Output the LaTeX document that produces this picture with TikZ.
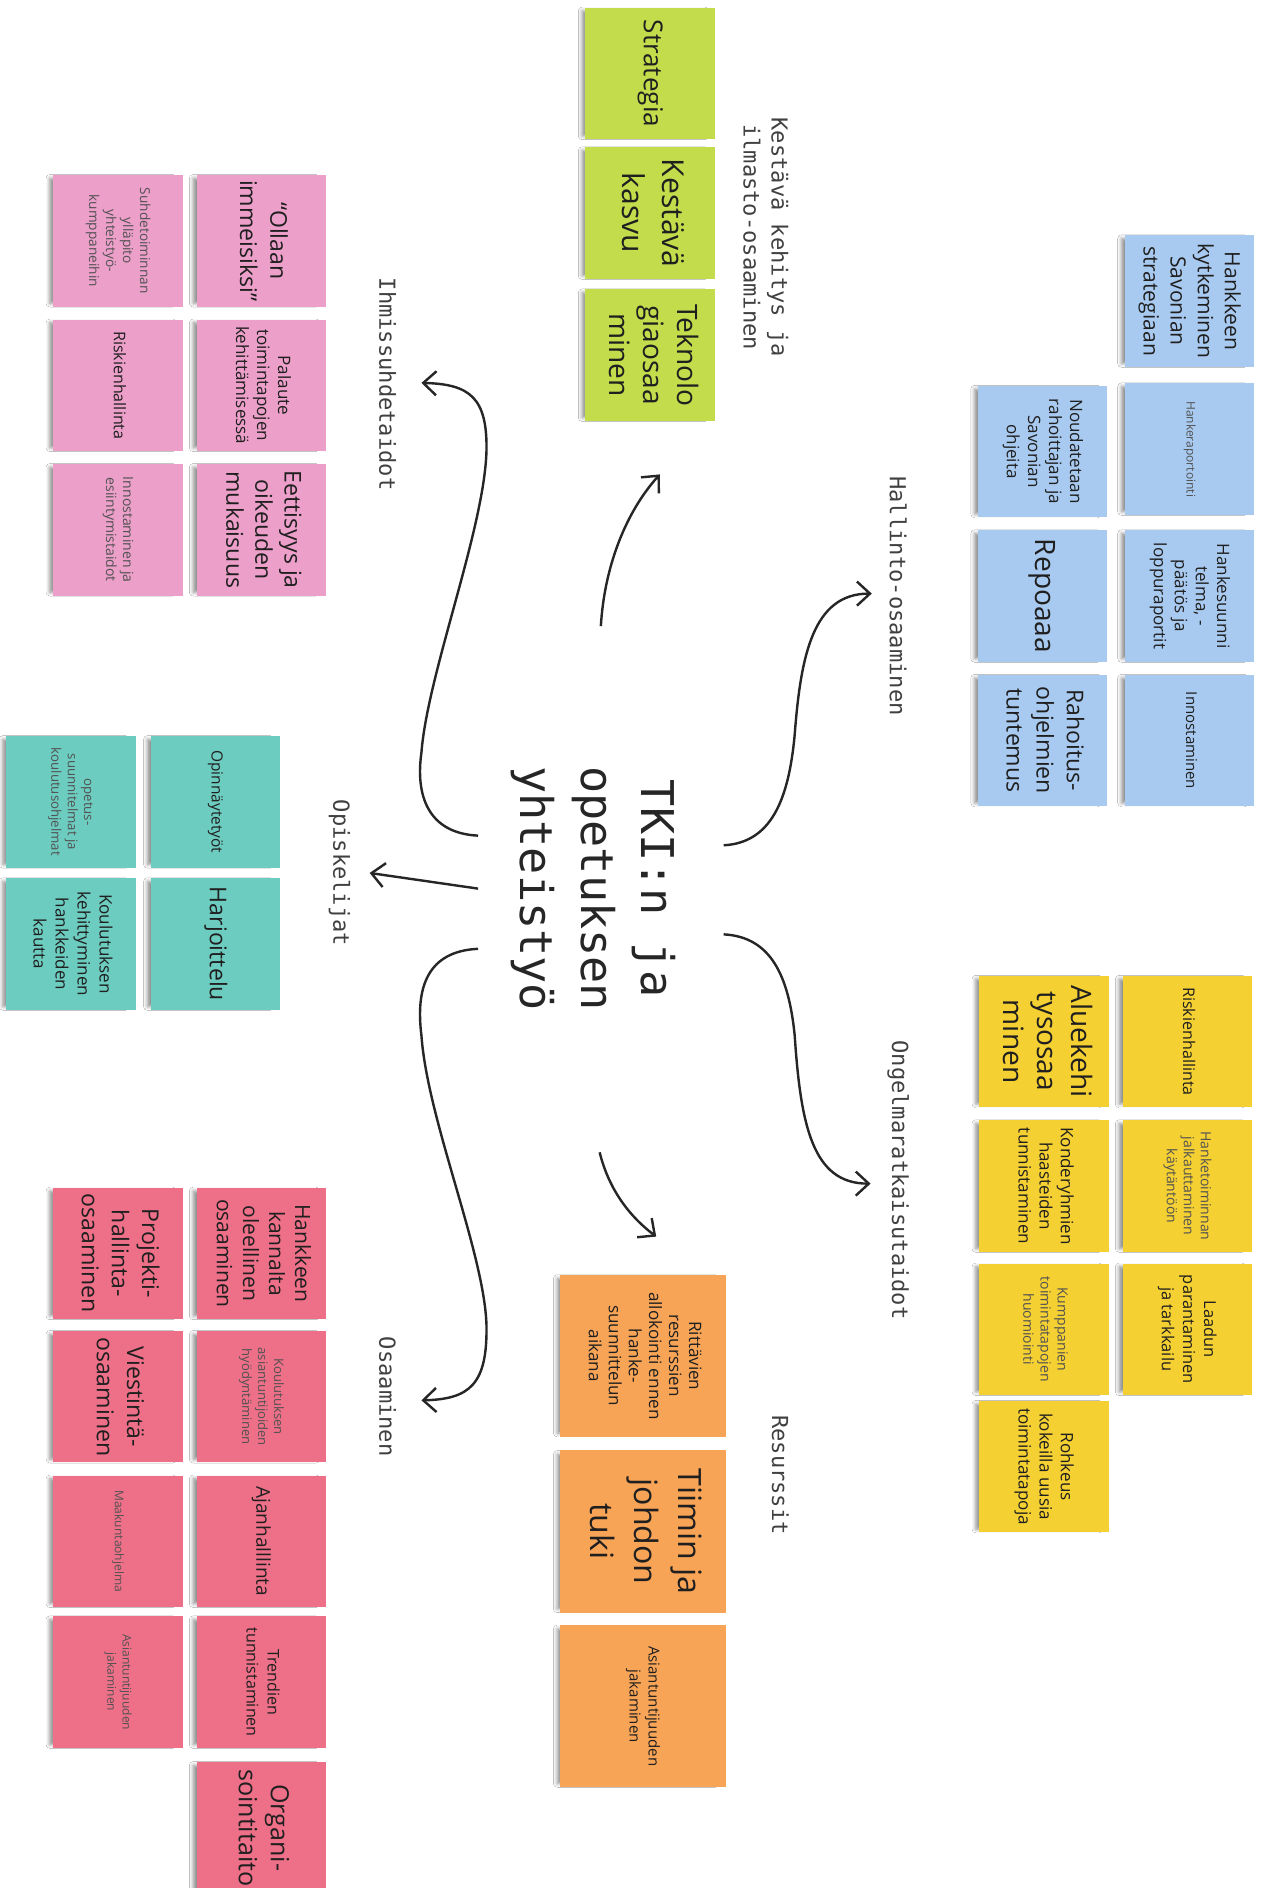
\documentclass[tikz,border=0pt]{standalone}
\usepackage{fontspec}
\usepackage{graphicx}
\setmainfont{Open Sans}
\newfontfamily\monofont{DejaVu Sans Mono}
\usetikzlibrary{arrows.meta,shadows.blur}
\definecolor{cblue}{HTML}{A9CAF0}
\definecolor{cyel}{HTML}{F5D032}
\definecolor{cgreen}{HTML}{C3DC4C}
\definecolor{cpink}{HTML}{EC9FC9}
\definecolor{cteal}{HTML}{6DCCC0}
\definecolor{cred}{HTML}{EE6F88}
\definecolor{corange}{HTML}{F8A457}
\newcommand{\nt}[3]{\rotatebox{-90}{\fontsize{#1}{#2}\selectfont\begin{tabular}{@{}c@{}}#3\end{tabular}}}
\newcommand{\ntg}[3]{\rotatebox{-90}{\color{black!68}\fontsize{#1}{#2}\selectfont\begin{tabular}{@{}c@{}}#3\end{tabular}}}
\tikzset{
  note/.style={minimum width=64.5pt, minimum height=65.5pt, inner sep=0pt, text=black!88,
    blur shadow={shadow xshift=-3.5pt, shadow yshift=0pt, shadow scale=0.95, shadow opacity=45, shadow blur radius=2pt}},
  nblue/.style={note, fill=cblue},
  nyel/.style={note, fill=cyel},
  ngreen/.style={note, fill=cgreen},
  npink/.style={note, fill=cpink},
  nteal/.style={note, fill=cteal},
  nred/.style={note, fill=cred},
  norange/.style={note, fill=corange, minimum width=83pt, minimum height=81pt},
  lbl/.style={font=\monofont\fontsize{11}{14}\selectfont, rotate=-90, align=center, text=black!75, inner sep=0pt},
  title/.style={font=\monofont\fontsize{22.5}{30}\selectfont, rotate=-90, align=center, text=black!85, inner sep=0pt},
  arr/.style={line width=1.2pt, black!85, -{Straight Barb[length=6.5pt,width=12pt]}}
}
\begin{document}
\begin{tikzpicture}[x=0.6pt,y=-0.6pt]
\useasboundingbox (0,0) rectangle (1049,1568);
\fill[white] (0,0) rectangle (1049,1568);

% centre
\node[title] (c) at (493,738) {TKI:n ja\\opetuksen\\yhteistyö};

% labels
\node[lbl] (lhal) at (746,495) {Hallinto-osaaminen};
\node[lbl] (long) at (746,980) {Ongelmaratkaisutaidot};
\node[lbl] (lres) at (648,1225) {Resurssit};
\node[lbl] (lkes) at (636,197) {Kestävä kehitys ja\\ilmasto-osaaminen};
\node[lbl] (lihm) at (322,319) {Ihmissuhdetaidot};
\node[lbl] (lopi) at (282,725) {Opiskelijat};
\node[lbl] (losa) at (322,1160) {Osaaminen};

% blue
\node[nblue] (b1) at (988,250) {\nt{10.5}{13.5}{Hankkeen\\kytkeminen\\Savonian\\strategiaan}};
\node[nblue] (b2) at (988,373) {\ntg{6}{7.5}{Hankeraportointi}};
\node[nblue] (b3) at (988,495) {\nt{8.5}{10.5}{Hankesuunni\\telma, -\\päätös ja\\loppuraportit}};
\node[nblue] (b4) at (988,615) {\nt{7.5}{9}{Innostaminen}};
\node[nblue] (b5) at (866,375) {\nt{8.5}{10.5}{Noudatetaan\\rahoittajan ja\\Savonian\\ohjeita}};
\node[nblue] (b6) at (866,495) {\nt{14}{17}{Repoaaa}};
\node[nblue] (b7) at (866,615) {\nt{11.5}{15}{Rahoitus-\\ohjelmien\\tuntemus}};

% yellow
\node[nyel] (y1) at (986,865) {\nt{8}{10}{Riskienhallinta}};
\node[nyel] (y2) at (986,985) {\ntg{7}{8.5}{Hanketoiminnan\\jalkauttaminen\\käytäntöön}};
\node[nyel] (y3) at (986,1104) {\nt{8.2}{10.5}{Laadun\\parantaminen\\ja tarkkailu}};
\node[nyel] (y4) at (867,865) {\nt{14}{17}{Aluekehi\\tysosaa\\minen}};
\node[nyel] (y5) at (867,985) {\nt{8.5}{10.5}{Konderyhmien\\haasteiden\\tunnistaminen}};
\node[nyel] (y6) at (867,1104) {\ntg{7}{8.5}{Kumppanien\\toimintatapojen\\huomiointi}};
\node[nyel] (y7) at (867,1218) {\nt{8.5}{10.5}{Rohkeus\\kokeilla uusia\\toimintatapoja}};

% green
\node[ngreen] (g1) at (540,61) {\nt{13}{16}{Strategia}};
\node[ngreen] (g2) at (540,177) {\nt{15}{20}{Kestävä\\kasvu}};
\node[ngreen] (g3) at (540,295) {\nt{14}{17}{Teknolo\\giaosaa\\minen}};

% pink
\node[npink] (p1) at (217,200) {\nt{11.5}{15}{“Ollaan\\immeisiksi”}};
\node[npink] (p2) at (217,320) {\nt{8.5}{10.5}{Palaute\\toimintapojen\\kehittämisessä}};
\node[npink] (p3) at (217,440) {\nt{11.5}{14.5}{Eettisyys ja\\oikeuden\\mukaisuus}};
\node[npink] (p4) at (98,200) {\ntg{6.8}{8.5}{Suhdetoiminnan\\ylläpito\\yhteistyö-\\kumppaneihin}};
\node[npink] (p5) at (98,320) {\nt{8}{10}{Riskienhallinta}};
\node[npink] (p6) at (98,440) {\ntg{7}{8.5}{Innostaminen ja\\esiintymistaidot}};

% teal
\node[nteal] (t1) at (179,666) {\nt{7.7}{9.5}{Opinnäytetyöt}};
\node[nteal] (t2) at (179,784) {\nt{11.5}{14}{Harjoittelu}};
\node[nteal] (t3) at (59,666) {\ntg{6.6}{8.2}{opetus-\\suunnitelmat ja\\koulutusohjelmat}};
\node[nteal] (t4) at (59,784) {\nt{8.5}{11}{Koulutuksen\\kehittyminen\\hankkeiden\\kautta}};

% red
\node[nred] (r1) at (217,1041) {\nt{10.5}{13}{Hankkeen\\kannalta\\oleellinen\\osaaminen}};
\node[nred] (r2) at (217,1160) {\ntg{6.5}{8}{Koulutuksen\\asiantuntijoiden\\hyödyntäminen}};
\node[nred] (r3) at (217,1280) {\nt{9.5}{12}{Ajanhalllinta}};
\node[nred] (r4) at (217,1397) {\nt{8}{10.5}{Trendien\\tunnistaminen}};
\node[nred] (r5) at (217,1518) {\nt{12.5}{16}{Organi-\\sointitaito}};
\node[nred] (r6) at (98,1041) {\nt{11.5}{15}{Projekti-\\hallinta-\\osaaminen}};
\node[nred] (r7) at (98,1160) {\nt{11.5}{15}{Viestintä-\\osaaminen}};
\node[nred] (r8) at (98,1280) {\ntg{6}{7.5}{Maakuntaohjelma}};
\node[nred] (r9) at (98,1397) {\ntg{6}{7.5}{Asiantuntijuuden\\jakaminen}};

% orange
\node[norange] (o1) at (534,1126) {\nt{8.5}{10}{Rittävien\\resurssien\\allokointi ennen\\hanke-\\suunnittelun\\aikana}};
\node[norange] (o2) at (534,1272) {\nt{16}{22}{Tiimin ja\\johdon\\tuki}};
\node[norange] (o3) at (534,1417) {\nt{7.5}{9.5}{Asiantuntijuuden\\jakaminen}};

% arrow end points
\coordinate (s1) at (601,702); \coordinate (e1) at (724,493);
\coordinate (s2) at (601,776); \coordinate (e2) at (723,983);
\coordinate (s3) at (498,957); \coordinate (e3) at (545,1027);
\coordinate (s4) at (499,520); \coordinate (e4) at (548,394);
\coordinate (s5) at (397,694); \coordinate (e5) at (350,318);
\coordinate (s6) at (397,738); \coordinate (e6) at (307,725);
\coordinate (s7) at (397,788); \coordinate (e7) at (350,1163);

\draw[arr] (s1) .. controls (640,700) and (655,665) .. (660,610) .. controls (665,545) and (675,493) .. (e1);
\draw[arr] (s2) .. controls (640,778) and (655,810) .. (660,860) .. controls (665,935) and (675,983) .. (e2);
\draw[arr] (s3) .. controls (505,985) and (520,1008) .. (e3);
\draw[arr] (s4) .. controls (502,470) and (520,425) .. (e4);
\draw[arr] (s5) .. controls (355,692) and (345,660) .. (350,625) .. controls (355,560) and (402,440) .. (404,375) .. controls (405,330) and (390,319) .. (e5);
\draw[arr] (s6) -- (e6);
\draw[arr] (s7) .. controls (355,790) and (345,820) .. (350,860) .. controls (355,930) and (402,1040) .. (404,1100) .. controls (405,1150) and (390,1162) .. (e7);
\end{tikzpicture}
\end{document}
